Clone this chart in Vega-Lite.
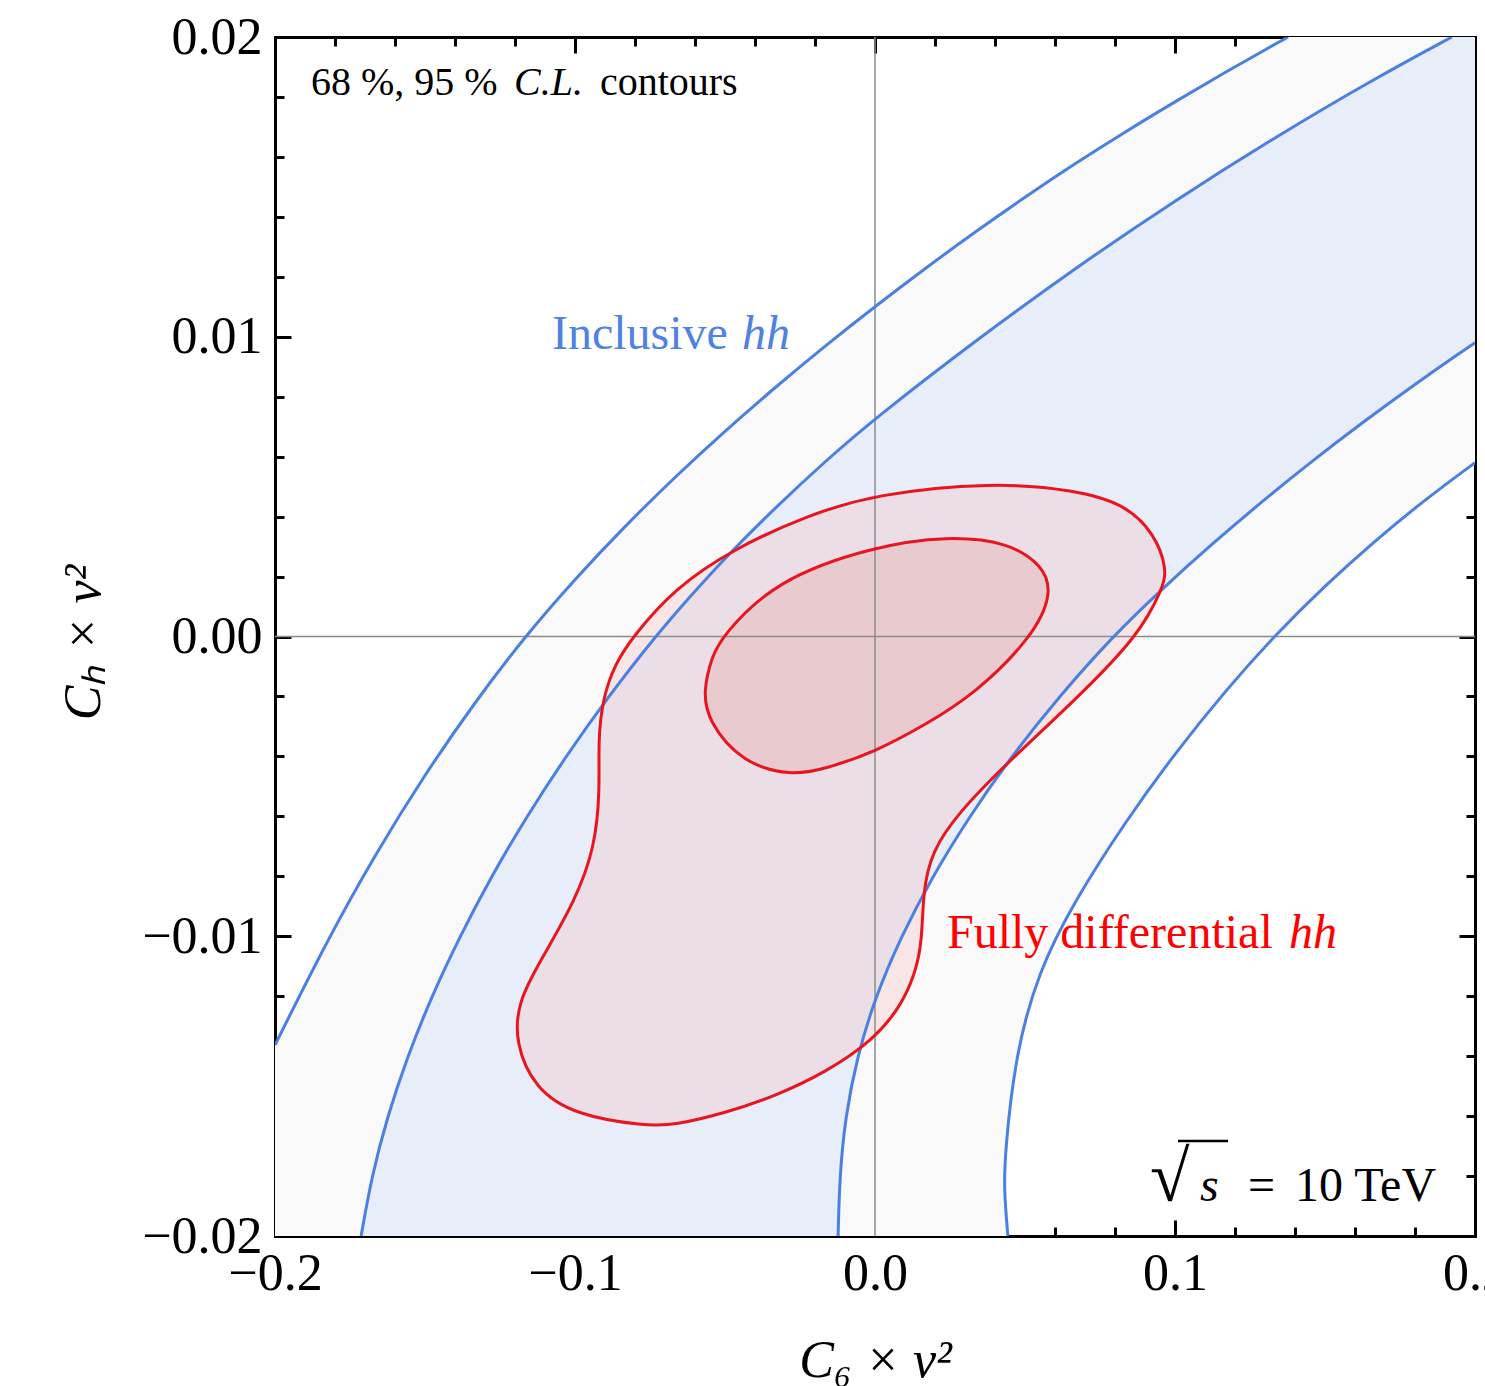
{
  "$schema": "https://vega.github.io/schema/vega-lite/v6.json",
  "width": 1200,
  "height": 1199,
  "autosize": {"type": "none"},
  "padding": {"left": 275, "top": 37, "right": 10, "bottom": 150},
  "background": "white",
  "data": {"values": [{}]},
  "config": {
    "view": {"stroke": null},
    "font": "Liberation Serif",
    "axis": {
      "domainColor": "black", "domainWidth": 3, "domainCap": "square",
      "tickColor": "black", "tickWidth": 3, "grid": false,
      "labelFont": "Liberation Serif", "labelFontSize": 52, "labelColor": "black",
      "labelFlush": false, "labelOverlap": false, "labelBound": false,
      "titleFont": "Liberation Serif", "titleColor": "black", "titleFontWeight": "normal",
      "zindex": 2
    }
  },
  "datasets": {
    "band95": [
      {"i": 0, "x": -0.2, "y": -0.01363}, {"i": 1, "x": -0.1833, "y": -0.01027}, {"i": 2, "x": -0.1667, "y": -0.00728},
      {"i": 3, "x": -0.15, "y": -0.00459}, {"i": 4, "x": -0.1333, "y": -0.00218}, {"i": 5, "x": -0.1167, "y": 0.0},
      {"i": 6, "x": -0.1, "y": 0.00192}, {"i": 7, "x": -0.0833, "y": 0.00369}, {"i": 8, "x": -0.0667, "y": 0.00532},
      {"i": 9, "x": -0.05, "y": 0.00686}, {"i": 10, "x": -0.0333, "y": 0.00831}, {"i": 11, "x": -0.0167, "y": 0.00969},
      {"i": 12, "x": 0.0, "y": 0.01101}, {"i": 13, "x": 0.0167, "y": 0.01228}, {"i": 14, "x": 0.0333, "y": 0.01349},
      {"i": 15, "x": 0.05, "y": 0.01466}, {"i": 16, "x": 0.0667, "y": 0.01578}, {"i": 17, "x": 0.0833, "y": 0.01683},
      {"i": 18, "x": 0.1, "y": 0.01784}, {"i": 19, "x": 0.1167, "y": 0.01882}, {"i": 20, "x": 0.1333, "y": 0.01976},
      {"i": 21, "x": 0.1377, "y": 0.02}, {"i": 22, "x": 0.1377, "y": 0.02}, {"i": 23, "x": 0.1377, "y": 0.02},
      {"i": 24, "x": 0.2, "y": 0.02}, {"i": 25, "x": 0.2, "y": 0.02}, {"i": 26, "x": 0.2, "y": 0.02},
      {"i": 27, "x": 0.2, "y": 0.0058}, {"i": 28, "x": 0.2, "y": 0.0058}, {"i": 29, "x": 0.2, "y": 0.0058},
      {"i": 30, "x": 0.1833, "y": 0.00456}, {"i": 31, "x": 0.1667, "y": 0.0032}, {"i": 32, "x": 0.15, "y": 0.0017},
      {"i": 33, "x": 0.1333, "y": 0.00004}, {"i": 34, "x": 0.1167, "y": -0.00182}, {"i": 35, "x": 0.1, "y": -0.00389},
      {"i": 36, "x": 0.0833, "y": -0.0062}, {"i": 37, "x": 0.0667, "y": -0.00879}, {"i": 38, "x": 0.0543, "y": -0.0112},
      {"i": 39, "x": 0.0467, "y": -0.014}, {"i": 40, "x": 0.0433, "y": -0.01727}, {"i": 41, "x": 0.043, "y": -0.01847},
      {"i": 42, "x": 0.0443, "y": -0.02}, {"i": 43, "x": 0.0443, "y": -0.02}, {"i": 44, "x": 0.0443, "y": -0.02},
      {"i": 45, "x": -0.2, "y": -0.02}
    ],
    "band68": [
      {"i": 0, "x": -0.1713, "y": -0.02}, {"i": 1, "x": -0.1678, "y": -0.01803}, {"i": 2, "x": -0.1626, "y": -0.01603},
      {"i": 3, "x": -0.1559, "y": -0.01403}, {"i": 4, "x": -0.1479, "y": -0.01203}, {"i": 5, "x": -0.1385, "y": -0.01003},
      {"i": 6, "x": -0.128, "y": -0.00802}, {"i": 7, "x": -0.1162, "y": -0.00602}, {"i": 8, "x": -0.1032, "y": -0.00402},
      {"i": 9, "x": -0.089, "y": -0.00202}, {"i": 10, "x": -0.0733, "y": 0.0}, {"i": 11, "x": -0.06, "y": 0.00153},
      {"i": 12, "x": -0.0467, "y": 0.00296}, {"i": 13, "x": -0.0333, "y": 0.00429}, {"i": 14, "x": -0.0167, "y": 0.00584},
      {"i": 15, "x": 0.0, "y": 0.00728}, {"i": 16, "x": 0.0333, "y": 0.00986}, {"i": 17, "x": 0.0667, "y": 0.01229},
      {"i": 18, "x": 0.1, "y": 0.01455}, {"i": 19, "x": 0.1333, "y": 0.01665}, {"i": 20, "x": 0.1667, "y": 0.01862},
      {"i": 21, "x": 0.1923, "y": 0.02}, {"i": 22, "x": 0.1923, "y": 0.02}, {"i": 23, "x": 0.1923, "y": 0.02},
      {"i": 24, "x": 0.2, "y": 0.02}, {"i": 25, "x": 0.2, "y": 0.02}, {"i": 26, "x": 0.2, "y": 0.02},
      {"i": 27, "x": 0.2, "y": 0.0098}, {"i": 28, "x": 0.2, "y": 0.0098}, {"i": 29, "x": 0.2, "y": 0.0098},
      {"i": 30, "x": 0.1958, "y": 0.00952}, {"i": 31, "x": 0.1792, "y": 0.00836}, {"i": 32, "x": 0.1625, "y": 0.00714},
      {"i": 33, "x": 0.1458, "y": 0.00586}, {"i": 34, "x": 0.1292, "y": 0.00452}, {"i": 35, "x": 0.1125, "y": 0.0031},
      {"i": 36, "x": 0.0958, "y": 0.0016}, {"i": 37, "x": 0.0792, "y": 0.0}, {"i": 38, "x": 0.0612, "y": -0.00202},
      {"i": 39, "x": 0.0453, "y": -0.00402}, {"i": 40, "x": 0.0313, "y": -0.00603}, {"i": 41, "x": 0.019, "y": -0.00803},
      {"i": 42, "x": 0.0086, "y": -0.01003}, {"i": 43, "x": 0.0001, "y": -0.01203}, {"i": 44, "x": -0.006, "y": -0.01403},
      {"i": 45, "x": -0.0099, "y": -0.01603}, {"i": 46, "x": -0.0118, "y": -0.01803}, {"i": 47, "x": -0.0123, "y": -0.02}
    ],
    "curves": [
      {"curve": "O1", "i": 0, "x": -0.2, "y": -0.01363}, {"curve": "O1", "i": 1, "x": -0.1833, "y": -0.01027},
      {"curve": "O1", "i": 2, "x": -0.1667, "y": -0.00728}, {"curve": "O1", "i": 3, "x": -0.15, "y": -0.00459},
      {"curve": "O1", "i": 4, "x": -0.1333, "y": -0.00218}, {"curve": "O1", "i": 5, "x": -0.1167, "y": 0.0},
      {"curve": "O1", "i": 6, "x": -0.1, "y": 0.00192}, {"curve": "O1", "i": 7, "x": -0.0833, "y": 0.00369},
      {"curve": "O1", "i": 8, "x": -0.0667, "y": 0.00532}, {"curve": "O1", "i": 9, "x": -0.05, "y": 0.00686},
      {"curve": "O1", "i": 10, "x": -0.0333, "y": 0.00831}, {"curve": "O1", "i": 11, "x": -0.0167, "y": 0.00969},
      {"curve": "O1", "i": 12, "x": 0.0, "y": 0.01101}, {"curve": "O1", "i": 13, "x": 0.0167, "y": 0.01228},
      {"curve": "O1", "i": 14, "x": 0.0333, "y": 0.01349}, {"curve": "O1", "i": 15, "x": 0.05, "y": 0.01466},
      {"curve": "O1", "i": 16, "x": 0.0667, "y": 0.01578}, {"curve": "O1", "i": 17, "x": 0.0833, "y": 0.01683},
      {"curve": "O1", "i": 18, "x": 0.1, "y": 0.01784}, {"curve": "O1", "i": 19, "x": 0.1167, "y": 0.01882},
      {"curve": "O1", "i": 20, "x": 0.1333, "y": 0.01976}, {"curve": "O1", "i": 21, "x": 0.1377, "y": 0.02},
      {"curve": "I1", "i": 0, "x": -0.1713, "y": -0.02}, {"curve": "I1", "i": 1, "x": -0.1678, "y": -0.01803},
      {"curve": "I1", "i": 2, "x": -0.1626, "y": -0.01603}, {"curve": "I1", "i": 3, "x": -0.1559, "y": -0.01403},
      {"curve": "I1", "i": 4, "x": -0.1479, "y": -0.01203}, {"curve": "I1", "i": 5, "x": -0.1385, "y": -0.01003},
      {"curve": "I1", "i": 6, "x": -0.128, "y": -0.00802}, {"curve": "I1", "i": 7, "x": -0.1162, "y": -0.00602},
      {"curve": "I1", "i": 8, "x": -0.1032, "y": -0.00402}, {"curve": "I1", "i": 9, "x": -0.089, "y": -0.00202},
      {"curve": "I1", "i": 10, "x": -0.0733, "y": 0.0}, {"curve": "I1", "i": 11, "x": -0.06, "y": 0.00153},
      {"curve": "I1", "i": 12, "x": -0.0467, "y": 0.00296}, {"curve": "I1", "i": 13, "x": -0.0333, "y": 0.00429},
      {"curve": "I1", "i": 14, "x": -0.0167, "y": 0.00584}, {"curve": "I1", "i": 15, "x": 0.0, "y": 0.00728},
      {"curve": "I1", "i": 16, "x": 0.0333, "y": 0.00986}, {"curve": "I1", "i": 17, "x": 0.0667, "y": 0.01229},
      {"curve": "I1", "i": 18, "x": 0.1, "y": 0.01455}, {"curve": "I1", "i": 19, "x": 0.1333, "y": 0.01665},
      {"curve": "I1", "i": 20, "x": 0.1667, "y": 0.01862}, {"curve": "I1", "i": 21, "x": 0.1923, "y": 0.02},
      {"curve": "I2", "i": 0, "x": -0.0123, "y": -0.02}, {"curve": "I2", "i": 1, "x": -0.0118, "y": -0.01803},
      {"curve": "I2", "i": 2, "x": -0.0099, "y": -0.01603}, {"curve": "I2", "i": 3, "x": -0.006, "y": -0.01403},
      {"curve": "I2", "i": 4, "x": 0.0001, "y": -0.01203}, {"curve": "I2", "i": 5, "x": 0.0086, "y": -0.01003},
      {"curve": "I2", "i": 6, "x": 0.019, "y": -0.00803}, {"curve": "I2", "i": 7, "x": 0.0313, "y": -0.00603},
      {"curve": "I2", "i": 8, "x": 0.0453, "y": -0.00402}, {"curve": "I2", "i": 9, "x": 0.0612, "y": -0.00202},
      {"curve": "I2", "i": 10, "x": 0.0792, "y": 0.0}, {"curve": "I2", "i": 11, "x": 0.0958, "y": 0.0016},
      {"curve": "I2", "i": 12, "x": 0.1125, "y": 0.0031}, {"curve": "I2", "i": 13, "x": 0.1292, "y": 0.00452},
      {"curve": "I2", "i": 14, "x": 0.1458, "y": 0.00586}, {"curve": "I2", "i": 15, "x": 0.1625, "y": 0.00714},
      {"curve": "I2", "i": 16, "x": 0.1792, "y": 0.00836}, {"curve": "I2", "i": 17, "x": 0.1958, "y": 0.00952},
      {"curve": "I2", "i": 18, "x": 0.2, "y": 0.0098},
      {"curve": "O2", "i": 0, "x": 0.0443, "y": -0.02}, {"curve": "O2", "i": 1, "x": 0.043, "y": -0.01847},
      {"curve": "O2", "i": 2, "x": 0.0433, "y": -0.01727}, {"curve": "O2", "i": 3, "x": 0.0467, "y": -0.014},
      {"curve": "O2", "i": 4, "x": 0.0543, "y": -0.0112}, {"curve": "O2", "i": 5, "x": 0.0667, "y": -0.00879},
      {"curve": "O2", "i": 6, "x": 0.0833, "y": -0.0062}, {"curve": "O2", "i": 7, "x": 0.1, "y": -0.00389},
      {"curve": "O2", "i": 8, "x": 0.1167, "y": -0.00182}, {"curve": "O2", "i": 9, "x": 0.1333, "y": 0.00004},
      {"curve": "O2", "i": 10, "x": 0.15, "y": 0.0017}, {"curve": "O2", "i": 11, "x": 0.1667, "y": 0.0032},
      {"curve": "O2", "i": 12, "x": 0.1833, "y": 0.00456}, {"curve": "O2", "i": 13, "x": 0.2, "y": 0.0058}
    ],
    "red95": [
      {"i": 0, "x": 0.0, "y": 0.00475}, {"i": 1, "x": 0.039, "y": 0.00515}, {"i": 2, "x": 0.0667, "y": 0.00489},
      {"i": 3, "x": 0.0833, "y": 0.00442}, {"i": 4, "x": 0.0933, "y": 0.00342}, {"i": 5, "x": 0.0973, "y": 0.00225},
      {"i": 6, "x": 0.096, "y": 0.00162}, {"i": 7, "x": 0.0877, "y": 0.0}, {"i": 8, "x": 0.0667, "y": -0.00212},
      {"i": 9, "x": 0.0433, "y": -0.00429}, {"i": 10, "x": 0.0277, "y": -0.00589}, {"i": 11, "x": 0.019, "y": -0.00716},
      {"i": 12, "x": 0.016, "y": -0.00846}, {"i": 13, "x": 0.0157, "y": -0.01022}, {"i": 14, "x": 0.0133, "y": -0.01126},
      {"i": 15, "x": 0.009, "y": -0.01226}, {"i": 16, "x": 0.0, "y": -0.01343}, {"i": 17, "x": -0.0167, "y": -0.01456},
      {"i": 18, "x": -0.0333, "y": -0.01533}, {"i": 19, "x": -0.05, "y": -0.0159}, {"i": 20, "x": -0.0667, "y": -0.0163},
      {"i": 21, "x": -0.0767, "y": -0.01633}, {"i": 22, "x": -0.1, "y": -0.01596}, {"i": 23, "x": -0.1133, "y": -0.0151},
      {"i": 24, "x": -0.12, "y": -0.01356}, {"i": 25, "x": -0.119, "y": -0.01216}, {"i": 26, "x": -0.111, "y": -0.01073},
      {"i": 27, "x": -0.1, "y": -0.00883}, {"i": 28, "x": -0.0933, "y": -0.00702}, {"i": 29, "x": -0.0917, "y": -0.00512},
      {"i": 30, "x": -0.0923, "y": -0.00345}, {"i": 31, "x": -0.0907, "y": -0.00205}, {"i": 32, "x": -0.0867, "y": -0.00092},
      {"i": 33, "x": -0.0807, "y": 0.0}, {"i": 34, "x": -0.0667, "y": 0.00162}, {"i": 35, "x": -0.0467, "y": 0.00295},
      {"i": 36, "x": -0.0223, "y": 0.00405}
    ],
    "red68": [
      {"i": 0, "x": -0.051, "y": 0.0}, {"i": 1, "x": -0.0333, "y": 0.00188}, {"i": 2, "x": 0.0, "y": 0.00302},
      {"i": 3, "x": 0.0243, "y": 0.00335}, {"i": 4, "x": 0.0443, "y": 0.00315}, {"i": 5, "x": 0.0557, "y": 0.00239},
      {"i": 6, "x": 0.0593, "y": 0.00148}, {"i": 7, "x": 0.0527, "y": 0.0}, {"i": 8, "x": 0.0333, "y": -0.00192},
      {"i": 9, "x": 0.0167, "y": -0.00295}, {"i": 10, "x": 0.0, "y": -0.00385}, {"i": 11, "x": -0.0167, "y": -0.00442},
      {"i": 12, "x": -0.0277, "y": -0.00465}, {"i": 13, "x": -0.0443, "y": -0.00422}, {"i": 14, "x": -0.0557, "y": -0.00282},
      {"i": 15, "x": -0.0573, "y": -0.00182}, {"i": 16, "x": -0.0543, "y": -0.00065}
    ]
  },
  "resolve": {"axis": {"x": "independent", "y": "independent"}},
  "layer": [
    {
      "data": {"name": "band95"},
      "mark": {"type": "line", "fill": "#f9f9f9", "strokeOpacity": 0, "interpolate": "basis", "clip": true},
      "encoding": {
        "x": {"field": "x", "type": "quantitative", "scale": {"domain": [-0.2, 0.2], "nice": false, "zero": false},
          "axis": {
            "orient": "bottom",
            "values": [-0.2, -0.18, -0.16, -0.14, -0.12, -0.1, -0.08, -0.06, -0.04, -0.02, 0, 0.02, 0.04, 0.06, 0.08, 0.1, 0.12, 0.14, 0.16, 0.18, 0.2],
            "labelExpr": "abs(datum.value*10 - round(datum.value*10)) < 0.001 ? replace(format(datum.value, '.1f'), '-', '\u2212') : ''",
            "tickSize": {"condition": {"test": "abs(datum.value*10 - round(datum.value*10)) < 0.001", "value": -16}, "value": -9},
            "labelBaseline": "alphabetic", "labelPadding": 69,
            "title": "C\u2086 \u00d7 v\u00b2", "titleFontSize": 52, "titleFontStyle": "italic",
            "titleX": 600, "titleY": 140, "titleAlign": "center", "titleBaseline": "alphabetic"
          }
        },
        "y": {"field": "y", "type": "quantitative", "scale": {"domain": [-0.02, 0.02], "nice": false, "zero": false},
          "axis": {
            "orient": "left",
            "values": [-0.02, -0.018, -0.016, -0.014, -0.012, -0.01, -0.008, -0.006, -0.004, -0.002, 0, 0.002, 0.004, 0.006, 0.008, 0.01, 0.012, 0.014, 0.016, 0.018, 0.02],
            "labelExpr": "abs(datum.value*100 - round(datum.value*100)) < 0.001 ? replace(format(datum.value, '.2f'), '-', '\u2212') : ''",
            "tickSize": {"condition": {"test": "abs(datum.value*100 - round(datum.value*100)) < 0.001", "value": -16}, "value": -9},
            "labelBaseline": "middle", "labelPadding": 29,
            "title": "C\u2095 \u00d7 v\u00b2", "titleFontSize": 52, "titleFontStyle": "italic", "titleAngle": 270,
            "titleX": -176, "titleY": 605, "titleAlign": "center", "titleBaseline": "alphabetic"
          }
        },
        "order": {"field": "i", "type": "quantitative"}
      }
    },
    {
      "data": {"name": "band68"},
      "mark": {"type": "line", "fill": "#e7edf9", "strokeOpacity": 0, "interpolate": "basis", "clip": true},
      "encoding": {
        "x": {"field": "x", "type": "quantitative",
          "axis": {
            "orient": "top", "labels": false, "title": null, "ticks": true,
            "values": [-0.2, -0.1, 0, 0.1, 0.2],
            "tickSize": -16, "tickColor": "black", "tickWidth": 3
          }
        },
        "y": {"field": "y", "type": "quantitative",
          "axis": {
            "orient": "right", "labels": false, "title": null,
            "values": [-0.02, -0.018, -0.016, -0.014, -0.012, -0.01, -0.008, -0.006, -0.004, -0.002, 0, 0.002, 0.004, 0.006, 0.008, 0.01, 0.012, 0.014, 0.016, 0.018, 0.02],
            "tickSize": {"condition": {"test": "abs(datum.value*100 - round(datum.value*100)) < 0.001", "value": -16}, "value": -9}
          }
        },
        "order": {"field": "i", "type": "quantitative"}
      }
    },
    {
      "data": {"name": "red95"},
      "mark": {"type": "line", "fill": "#f6bfc2", "fillOpacity": 0.33, "strokeOpacity": 0, "interpolate": "basis-closed", "clip": true},
      "encoding": {
        "x": {"field": "x", "type": "quantitative", "axis": null},
        "y": {"field": "y", "type": "quantitative", "axis": null},
        "order": {"field": "i", "type": "quantitative"}
      }
    },
    {
      "data": {"name": "red68"},
      "mark": {"type": "line", "fill": "#e3a29f", "fillOpacity": 0.33, "strokeOpacity": 0, "interpolate": "basis-closed", "clip": true},
      "encoding": {
        "x": {"field": "x", "type": "quantitative", "axis": null},
        "y": {"field": "y", "type": "quantitative", "axis": null},
        "order": {"field": "i", "type": "quantitative"}
      }
    },
    {
      "mark": {"type": "rule", "color": "#8c8c8c", "strokeWidth": 1.5},
      "encoding": {"x": {"datum": 0, "type": "quantitative",
        "axis": {
          "orient": "top", "labels": false, "title": null, "ticks": true, "domain": false,
          "values": [-0.18, -0.16, -0.14, -0.12, -0.08, -0.06, -0.04, -0.02, 0.02, 0.04, 0.06, 0.08, 0.12, 0.14, 0.16, 0.18],
          "tickSize": -9, "tickColor": "black", "tickWidth": 3
        }}}
    },
    {
      "mark": {"type": "rule", "color": "#8c8c8c", "strokeWidth": 1.5},
      "encoding": {"y": {"datum": 0, "type": "quantitative", "axis": null}}
    },
    {
      "data": {"name": "curves"},
      "mark": {"type": "line", "color": "#4a80e0", "strokeWidth": 3, "interpolate": "basis", "clip": true},
      "encoding": {
        "x": {"field": "x", "type": "quantitative", "axis": null},
        "y": {"field": "y", "type": "quantitative", "axis": null},
        "detail": {"field": "curve", "type": "nominal"},
        "order": {"field": "i", "type": "quantitative"}
      }
    },
    {
      "data": {"name": "red95"},
      "mark": {"type": "line", "stroke": "#e8141e", "strokeWidth": 3, "interpolate": "basis-closed", "clip": true},
      "encoding": {
        "x": {"field": "x", "type": "quantitative", "axis": null},
        "y": {"field": "y", "type": "quantitative", "axis": null},
        "order": {"field": "i", "type": "quantitative"}
      }
    },
    {
      "data": {"name": "red68"},
      "mark": {"type": "line", "stroke": "#e8141e", "strokeWidth": 3, "interpolate": "basis-closed", "clip": true},
      "encoding": {
        "x": {"field": "x", "type": "quantitative", "axis": null},
        "y": {"field": "y", "type": "quantitative", "axis": null},
        "order": {"field": "i", "type": "quantitative"}
      }
    },
    {
      "mark": {"type": "text", "text": "68 %, 95 %", "font": "Liberation Serif", "fontSize": 40, "color": "black", "align": "left", "baseline": "alphabetic"},
      "encoding": {"x": {"datum": -0.188, "type": "quantitative", "axis": null}, "y": {"datum": 0.01807, "type": "quantitative", "axis": null}}
    },
    {
      "mark": {"type": "text", "text": "C.L.", "font": "Liberation Serif", "fontStyle": "italic", "fontSize": 40, "color": "black", "align": "left", "baseline": "alphabetic"},
      "encoding": {"x": {"datum": -0.1203, "type": "quantitative", "axis": null}, "y": {"datum": 0.01807, "type": "quantitative", "axis": null}}
    },
    {
      "mark": {"type": "text", "text": "contours", "font": "Liberation Serif", "fontSize": 40, "color": "black", "align": "left", "baseline": "alphabetic"},
      "encoding": {"x": {"datum": -0.0917, "type": "quantitative", "axis": null}, "y": {"datum": 0.01807, "type": "quantitative", "axis": null}}
    },
    {
      "mark": {"type": "text", "text": "Inclusive", "font": "Liberation Serif", "fontSize": 48, "color": "#4f82e2", "align": "left", "baseline": "alphabetic"},
      "encoding": {"x": {"datum": -0.1077, "type": "quantitative", "axis": null}, "y": {"datum": 0.00959, "type": "quantitative", "axis": null}}
    },
    {
      "mark": {"type": "text", "text": "hh", "font": "Liberation Serif", "fontStyle": "italic", "fontSize": 48, "color": "#4f82e2", "align": "left", "baseline": "alphabetic"},
      "encoding": {"x": {"datum": -0.0443, "type": "quantitative", "axis": null}, "y": {"datum": 0.00959, "type": "quantitative", "axis": null}}
    },
    {
      "mark": {"type": "text", "text": "Fully differential", "font": "Liberation Serif", "fontSize": 48, "color": "#ff0000", "align": "left", "baseline": "alphabetic"},
      "encoding": {"x": {"datum": 0.024, "type": "quantitative", "axis": null}, "y": {"datum": -0.01039, "type": "quantitative", "axis": null}}
    },
    {
      "mark": {"type": "text", "text": "hh", "font": "Liberation Serif", "fontStyle": "italic", "fontSize": 48, "color": "#ff0000", "align": "left", "baseline": "alphabetic"},
      "encoding": {"x": {"datum": 0.138, "type": "quantitative", "axis": null}, "y": {"datum": -0.01039, "type": "quantitative", "axis": null}}
    },
    {
      "mark": {"type": "text", "text": "\u221a", "font": "Liberation Serif", "fontSize": 72, "color": "black", "align": "left", "baseline": "alphabetic"},
      "encoding": {"x": {"datum": 0.0917, "type": "quantitative", "axis": null}, "y": {"datum": -0.01883, "type": "quantitative", "axis": null}}
    },
    {
      "mark": {"type": "text", "text": "s", "font": "Liberation Serif", "fontStyle": "italic", "fontSize": 48, "color": "black", "align": "left", "baseline": "alphabetic"},
      "encoding": {"x": {"datum": 0.1083, "type": "quantitative", "axis": null}, "y": {"datum": -0.01883, "type": "quantitative", "axis": null}}
    },
    {
      "mark": {"type": "text", "text": "=", "font": "Liberation Serif", "fontSize": 48, "color": "black", "align": "left", "baseline": "alphabetic"},
      "encoding": {"x": {"datum": 0.1243, "type": "quantitative", "axis": null}, "y": {"datum": -0.01883, "type": "quantitative", "axis": null}}
    },
    {
      "mark": {"type": "text", "text": "10 TeV", "font": "Liberation Serif", "fontSize": 48, "color": "black", "align": "left", "baseline": "alphabetic"},
      "encoding": {"x": {"datum": 0.14, "type": "quantitative", "axis": null}, "y": {"datum": -0.01883, "type": "quantitative", "axis": null}}
    },
    {
      "mark": {"type": "rule", "color": "black", "strokeWidth": 2.5},
      "encoding": {
        "x": {"datum": 0.101, "type": "quantitative", "axis": null},
        "x2": {"datum": 0.1177},
        "y": {"datum": -0.01683, "type": "quantitative", "axis": null}
      }
    }
  ]
}
